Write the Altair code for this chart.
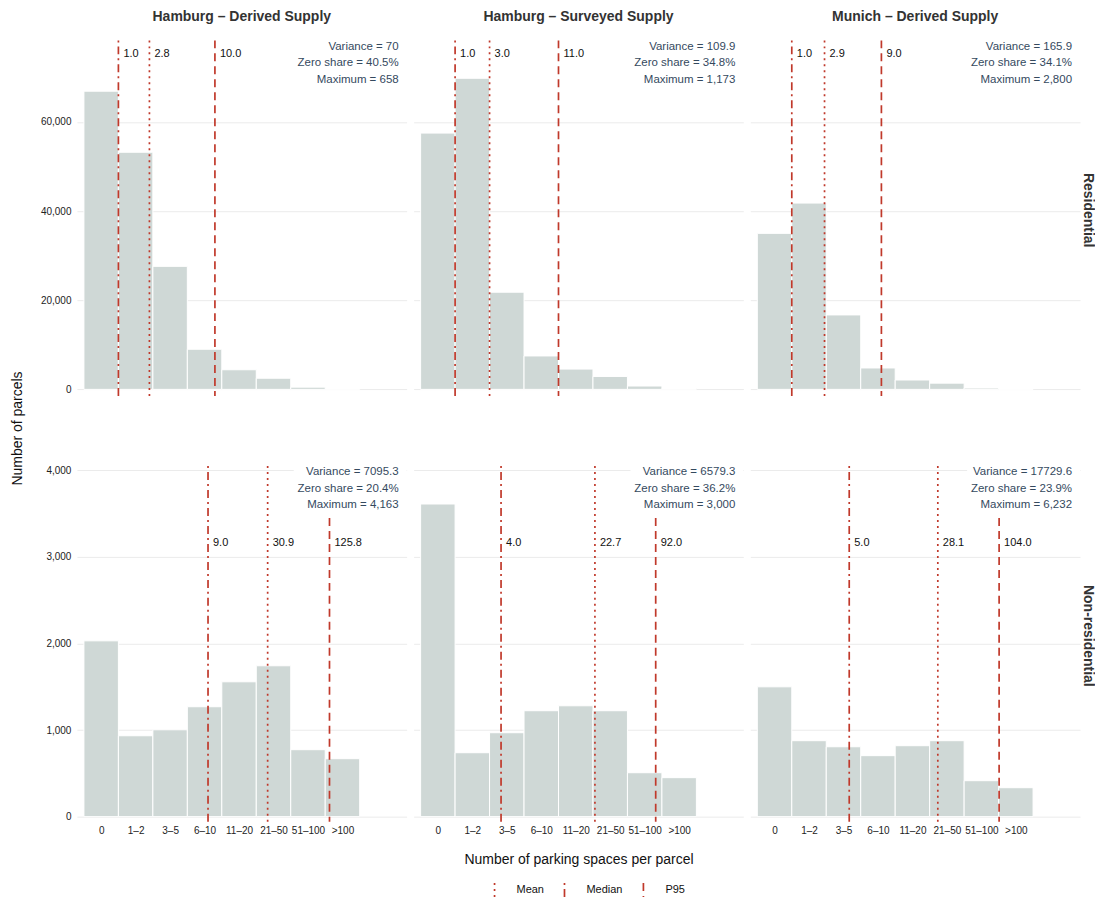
import altair as alt
import pandas as pd

# ---------------- data ----------------
bins = ["0", "1–2", "3–5", "6–10", "11–20", "21–50", "51–100", ">100"]
# lower/upper edges (parking spaces) of each bin, used to place the statistic lines on the binned axis
edges = [0, 1, 3, 6, 11, 21, 51, 101, 301]

columns = ["Hamburg – Derived Supply", "Hamburg – Surveyed Supply", "Munich – Derived Supply"]
rows = ["Residential", "Non-residential"]

res_hd = [66900, 53200, 27600, 9000, 4400, 2500, 500, 100]
res_hs = [57500, 69800, 21800, 7500, 4550, 2900, 750, 200]
res_mu = [35000, 41800, 16700, 4800, 2100, 1400, 300, 70]
non_hd = [2030, 934, 1003, 1269, 1557, 1742, 773, 669]
non_hs = [3610, 738, 969, 1223, 1280, 1223, 507, 450]
non_mu = [1499, 877, 807, 704, 819, 877, 415, 334]
counts = [[res_hd, res_hs, res_mu], [non_hd, non_hs, non_mu]]

res_mean = [2.8, 3.0, 2.9]
res_median = [1.0, 1.0, 1.0]
res_p95 = [10.0, 11.0, 9.0]
non_mean = [30.9, 22.7, 28.1]
non_median = [9.0, 4.0, 5.0]
non_p95 = [125.8, 92.0, 104.0]
means = [res_mean, non_mean]
medians = [res_median, non_median]
p95s = [res_p95, non_p95]

res_variance = ["70", "109.9", "165.9"]
res_zero = ["40.5%", "34.8%", "34.1%"]
res_max = ["658", "1,173", "2,800"]
non_variance = ["7095.3", "6579.3", "17729.6"]
non_zero = ["20.4%", "36.2%", "23.9%"]
non_max = ["4,163", "3,000", "6,232"]
variances = [res_variance, non_variance]
zeros = [res_zero, non_zero]
maxima = [res_max, non_max]

y_ticks = [[0, 20000, 40000, 60000], [0, 1000, 2000, 3000, 4000]]
y_domains = [[-1500, 78300], [-58, 4049]]

# ---------------- style ----------------
FONT = "Liberation Sans"
RED = "#C0392B"
BAR = "#CFD8D6"
GRID = "#EBEBEB"
W, H = 330, 356
LABEL_Y = [14, 77]


def to_pos(v):
    for k in range(len(edges) - 1):
        if edges[k] <= v < edges[k + 1]:
            return k + (v - edges[k]) / (edges[k + 1] - edges[k])
    return len(edges) - 1


x_scale = alt.Scale(domain=[-0.203, 9.362], nice=False, zero=False)
dash_scale = alt.Scale(domain=["Mean", "Median", "P95"],
                       range=[[2, 4], [2, 4, 8, 4], [8, 5]])
label_expr = "[" + ",".join("'%s'" % b for b in bins) + "][floor(datum.value)]"


def panel(r, c):
    bars_df = pd.DataFrame({
        "i": list(range(len(bins))),
        "i2": [i + 1 for i in range(len(bins))],
        "bin": bins,
        "count": counts[r][c],
        "zero": [0] * len(bins),
    })
    stat_vals = [means[r][c], medians[r][c], p95s[r][c]]
    stats_df = pd.DataFrame({
        "stat": ["Mean", "Median", "P95"],
        "value": stat_vals,
        "pos": [to_pos(v) for v in stat_vals],
        "label": ["%.1f" % v for v in stat_vals],
    })
    ann_df = pd.DataFrame({"text": [
        "Variance = %s\nZero share = %s\nMaximum = %s"
        % (variances[r][c], zeros[r][c], maxima[r][c])],
        "row": [rows[r]]})

    y_scale = alt.Scale(domain=y_domains[r], nice=False, zero=False)
    if c == 0:
        y_axis = alt.Axis(values=y_ticks[r], labelExpr="format(datum.value, ',')",
                          grid=True, gridColor=GRID,
                          domain=False, ticks=False, labelFontSize=10, labelColor="#222",
                          labelPadding=6, title=None, minExtent=40, maxExtent=40)
    else:
        y_axis = alt.Axis(values=y_ticks[r], grid=True, gridColor=GRID, labels=False,
                          domain=False, ticks=False, title=None)
    if r == 0:
        x_axis = None
    else:
        x_axis = alt.Axis(values=[i + 0.5 for i in range(len(bins))], labelExpr=label_expr,
                          grid=False, domain=False, ticks=False, labelPadding=4,
                          labelFontSize=10, labelColor="#222",
                          title="Number of parking spaces per parcel" if c == 1 else None,
                          titleFontSize=14, titleFontWeight="normal", titleColor="#111",
                          titlePadding=17)

    bars = alt.Chart(bars_df).mark_rect(fill=BAR, stroke="white", strokeWidth=1).encode(
        x=alt.X("i:Q", scale=x_scale, axis=x_axis),
        x2="i2:Q",
        y=alt.Y("count:Q", scale=y_scale, axis=y_axis),
        y2="zero:Q",
    )
    rules = alt.Chart(stats_df).mark_rule(color=RED, strokeWidth=1.7).encode(
        x=alt.X("pos:Q", scale=x_scale),
        strokeDash=alt.StrokeDash("stat:N", scale=dash_scale, title=None),
    )
    box = alt.Chart(ann_df).mark_rect(fill="white").encode(
        x=alt.value(W - 113), x2=alt.value(W), y=alt.value(-2), y2=alt.value(47))
    ann = alt.Chart(ann_df).mark_text(
        align="right", baseline="top", lineBreak="\n", lineHeight=16.5,
        fontSize=11.5, color="#34495E", font=FONT).encode(
        x=alt.value(W - 8), y=alt.value(0.5), text="text:N")
    labels = alt.Chart(stats_df).mark_text(
        align="left", baseline="middle", dx=5, fontSize=11, color="#111", font=FONT).encode(
        x=alt.X("pos:Q", scale=x_scale), y=alt.value(LABEL_Y[r]), text="label:N")

    layers = [bars, rules, box, ann, labels]
    if c == 2:
        strip = alt.Chart(ann_df).mark_text(
            angle=90, align="center", baseline="middle", fontSize=14, fontWeight="bold",
            color="#333", font=FONT).encode(
            x=alt.value(W + 8), y=alt.value(H / 2 - 8), text="row:N")
        layers.append(strip)

    layer = alt.layer(*layers).properties(width=W, height=H)
    if r == 0:
        layer = layer.properties(title=alt.TitleParams(
            columns[c], fontSize=14, fontWeight="bold", color="#333", offset=14, font=FONT))
    return layer


row_charts = [alt.hconcat(*[panel(r, c) for c in range(3)], spacing=7) for r in range(2)]

chart = alt.vconcat(*row_charts, spacing=67).properties(
    title=alt.TitleParams("Number of parcels", orient="left", fontSize=14,
                          fontWeight="normal", color="#111", offset=12, font=FONT, dx=27),
    padding={"left": 3, "top": 2, "right": 0, "bottom": 0},
).configure(font=FONT).configure_view(stroke=None).configure_legend(
    orient="none", legendX=410, legendY=842,
    direction="horizontal", symbolType="M0,-1L0,1", symbolSize=196,
    symbolStrokeColor=RED, symbolStrokeWidth=1.7, labelFontSize=11, labelColor="#111",
    labelOffset=14, columnPadding=12, padding=0,
).configure_title(anchor="middle")

chart.save("out.html", embed_options={"renderer": "svg", "actions": False})
